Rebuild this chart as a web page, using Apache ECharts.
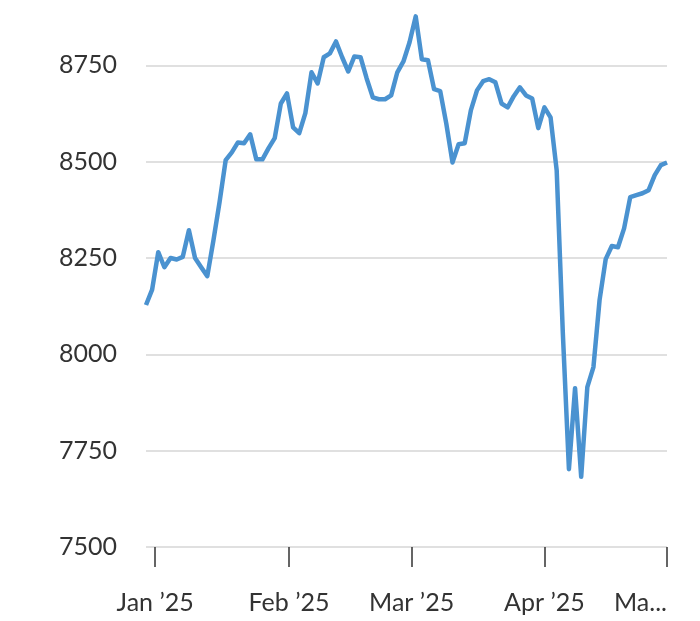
<!DOCTYPE html>
<html lang="en">
<head>
  <meta charset="UTF-8">
  <title>Index</title>
  <script src="https://cdn.jsdelivr.net/npm/echarts@6/dist/echarts.min.js"></script>
  <style>
    html, body { margin: 0; padding: 0; background: #fff; }
    #main { width: 700px; height: 621px; }
  </style>
</head>
<body>

<div id="main"></div>

<script>
  // trading days, one point each
  var dates = [
    '2024-12-30', '2024-12-31',
    '2025-01-02', '2025-01-03', '2025-01-06', '2025-01-07', '2025-01-08', '2025-01-09', '2025-01-10',
    '2025-01-13', '2025-01-14', '2025-01-15', '2025-01-16', '2025-01-17',
    '2025-01-20', '2025-01-21', '2025-01-22', '2025-01-23', '2025-01-24',
    '2025-01-27', '2025-01-28', '2025-01-29', '2025-01-30', '2025-01-31',
    '2025-02-03', '2025-02-04', '2025-02-05', '2025-02-06', '2025-02-07',
    '2025-02-10', '2025-02-11', '2025-02-12', '2025-02-13', '2025-02-14',
    '2025-02-17', '2025-02-18', '2025-02-19', '2025-02-20', '2025-02-21',
    '2025-02-24', '2025-02-25', '2025-02-26', '2025-02-27', '2025-02-28',
    '2025-03-03', '2025-03-04', '2025-03-05', '2025-03-06', '2025-03-07',
    '2025-03-10', '2025-03-11', '2025-03-12', '2025-03-13', '2025-03-14',
    '2025-03-17', '2025-03-18', '2025-03-19', '2025-03-20', '2025-03-21',
    '2025-03-24', '2025-03-25', '2025-03-26', '2025-03-27', '2025-03-28',
    '2025-03-31',
    '2025-04-01', '2025-04-02', '2025-04-03', '2025-04-04',
    '2025-04-07', '2025-04-08', '2025-04-09', '2025-04-10', '2025-04-11',
    '2025-04-14', '2025-04-15', '2025-04-16', '2025-04-17',
    '2025-04-22', '2025-04-23', '2025-04-24', '2025-04-25',
    '2025-04-28', '2025-04-29', '2025-04-30', '2025-05-01'
  ];
  var values = [
    8128, 8168,
    8265, 8226, 8250, 8246, 8253, 8322, 8250,
    8226, 8203, 8296, 8395, 8504,
    8524, 8550, 8548, 8571, 8506,
    8506, 8535, 8561, 8651, 8677,
    8589, 8574, 8626, 8732, 8703,
    8771, 8781, 8812, 8771, 8734,
    8773, 8771, 8716, 8667, 8662,
    8662, 8672, 8732, 8760, 8810,
    8877, 8766, 8763, 8688, 8683,
    8598, 8498, 8545, 8548, 8633,
    8685, 8709, 8714, 8706, 8651,
    8641, 8670, 8693, 8672, 8664,
    8587,
    8641, 8615, 8478, 8057,
    7702, 7912, 7682, 7915, 7967,
    8141, 8247, 8281, 8278,
    8327, 8408, 8413, 8418,
    8426, 8465, 8491, 8498
  ];
  var monthStarts = ['2025-01-01', '2025-02-01', '2025-03-01', '2025-04-01', '2025-05-01'];
  var monthLabels = ['Jan ’25', 'Feb ’25', 'Mar ’25', 'Apr ’25', 'Ma...'];

  function dayNum(s) {
    return Date.parse(s + 'T00:00:00Z') / 864e5;
  }
  // where a calendar day falls on the trading-day axis
  function monthPos(s) {
    var t = dayNum(s);
    for (var i = 0; i < dates.length; i++) {
      var d = dayNum(dates[i]);
      if (d >= t) {
        if (i === 0 || d === t) return i;
        var p = dayNum(dates[i - 1]);
        return i - 1 + (t - p) / (d - p);
      }
    }
    return dates.length - 1;
  }
  var tickPos = monthStarts.map(monthPos);

  var font = 'Lato, "Open Sans", sans-serif';

  echarts.init(document.getElementById('main')).setOption({
    animation: false,
    grid: { left: 146, right: 33, top: -31, bottom: 74, outerBoundsMode: 'none', containLabel: false },
    xAxis: {
      type: 'value',
      min: 0,
      max: dates.length - 1,
      axisLine: { show: false },
      splitLine: { show: false },
      axisTick: {
        show: true,
        customValues: tickPos,
        length: 20,
        lineStyle: { color: '#333', width: 1.5 }
      },
      axisLabel: {
        customValues: tickPos,
        margin: 43,
        fontSize: 25,
        fontFamily: font,
        color: '#333',
        alignMaxLabel: 'right',
        formatter: function (v) {
          var best = 0;
          for (var i = 1; i < tickPos.length; i++) {
            if (Math.abs(tickPos[i] - v) < Math.abs(tickPos[best] - v)) best = i;
          }
          return monthLabels[best];
        }
      }
    },
    yAxis: {
      type: 'value',
      min: 7500,
      max: 9000,
      interval: 250,
      axisLine: { show: false },
      axisTick: { show: false },
      axisLabel: {
        margin: 29,
        fontSize: 25,
        fontFamily: font,
        color: '#333',
        formatter: function (v) { return String(v); }
      },
      splitLine: { lineStyle: { color: '#d6d6d6', width: 1.5 } }
    },
    series: [{
      type: 'line',
      data: values.map(function (v, i) { return [i, v]; }),
      showSymbol: false,
      lineStyle: { color: '#4a92d0', width: 4.5, join: 'round' }
    }]
  });
</script>
</body>
</html>
